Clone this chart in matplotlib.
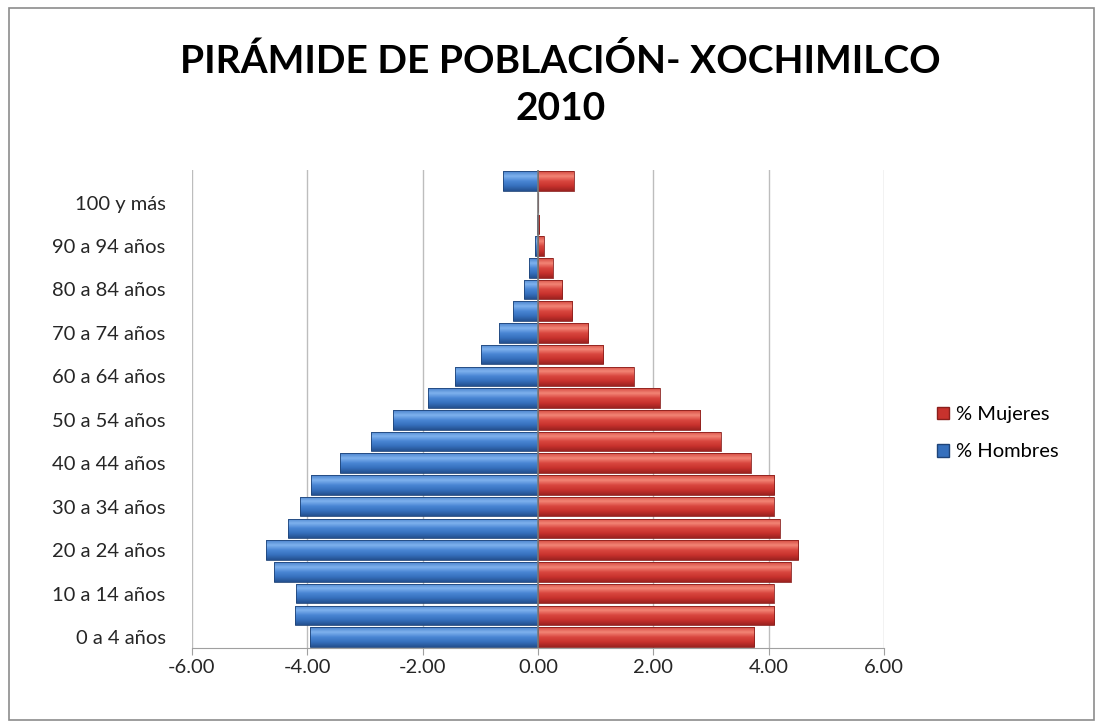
import numpy as np
import matplotlib.pyplot as plt
from matplotlib.colors import LinearSegmentedColormap
from matplotlib.patches import Patch, Rectangle

grupos = ['0 a 4 años', '5 a 9 años', '10 a 14 años', '15 a 19 años', '20 a 24 años',
          '25 a 29 años', '30 a 34 años', '35 a 39 años', '40 a 44 años', '45 a 49 años',
          '50 a 54 años', '55 a 59 años', '60 a 64 años', '65 a 69 años', '70 a 74 años',
          '75 a 79 años', '80 a 84 años', '85 a 89 años', '90 a 94 años', '95 a 99 años',
          '100 y más', 'No especificado']
hombres = [-3.96, -4.22, -4.20, -4.57, -4.71, -4.33, -4.12, -3.93, -3.44, -2.89,
           -2.52, -1.90, -1.44, -0.99, -0.68, -0.44, -0.24, -0.15, -0.05, -0.01,
           -0.003, -0.61]
mujeres = [3.75, 4.10, 4.09, 4.38, 4.51, 4.19, 4.09, 4.10, 3.69, 3.17,
           2.81, 2.11, 1.66, 1.13, 0.87, 0.59, 0.42, 0.26, 0.10, 0.02,
           0.005, 0.62]
xticks = [-6, -4, -2, 0, 2, 4, 6]

azul = LinearSegmentedColormap.from_list('azul', ['#24508f', '#3670bd', '#4a86d4', '#7fb2ee', '#4a82cc'])
rojo = LinearSegmentedColormap.from_list('rojo', ['#9c2220', '#c8322d', '#d9473f', '#f38576', '#d44a40'])

fig = plt.figure(figsize=(11.03, 7.28), dpi=100)
fig.patches.append(Rectangle((0.008, 0.011), 0.984, 0.978, transform=fig.transFigure,
                             fill=False, edgecolor='#8c8c8c', linewidth=1.2))
ax = fig.add_axes([0.174, 0.110, 0.6275, 0.6565])

y = np.arange(len(grupos))
grad = np.linspace(0, 1, 64).reshape(-1, 1)


def draw_bars(vals, cmap, edge):
    bars = ax.barh(y, vals, height=0.9, color='none', edgecolor=edge, linewidth=0.6, zorder=3)
    for b in bars:
        x0, y0 = b.get_x(), b.get_y()
        x1, y1 = x0 + b.get_width(), y0 + b.get_height()
        if abs(x1 - x0) < 1e-9:
            continue
        im = ax.imshow(grad, cmap=cmap, origin='lower', aspect='auto',
                       extent=[min(x0, x1), max(x0, x1), y0, y1], zorder=2)
        im.set_clip_path(b)
    return bars


draw_bars(hombres, azul, '#1f4478')
draw_bars(mujeres, rojo, '#8a1f1c')

ax.axvline(0, color='#7a7a7a', linewidth=1.2, zorder=4)
ax.set_xlim(-6, 6)
ax.set_ylim(-0.5, len(grupos) - 0.5)

ax.set_xticks(xticks)
ax.set_xticklabels(['%.2f' % t for t in xticks], fontsize=14.5, family='Lato', color='#262626')
ax.set_yticks(y[:21:2])
ax.set_yticklabels(grupos[:21:2], fontsize=14.5, family='Lato', color='#262626')
ax.tick_params(axis='y', length=0, pad=19)
ax.tick_params(axis='x', length=5, color='#a0a0a0', pad=3)
ax.grid(axis='x', color='#bdbdbd', linewidth=1.0, zorder=0)
ax.set_axisbelow(True)
for s in ['top', 'right', 'left']:
    ax.spines[s].set_visible(False)
ax.spines['bottom'].set_color('#a0a0a0')

fig.text(0.508, 0.884, 'PIRÁMIDE DE POBLACIÓN- XOCHIMILCO\n2010', ha='center', va='center',
         fontsize=28, fontweight='bold', family='Lato', linespacing=1.42)

handles = [Patch(facecolor='#c8322d', edgecolor='#8a1f1c', label='% Mujeres'),
           Patch(facecolor='#3670bd', edgecolor='#1f4478', label='% Hombres')]
fig.legend(handles=handles, loc='center left', bbox_to_anchor=(0.833, 0.405), frameon=False,
           prop={'family': 'Lato', 'size': 14.5}, handlelength=0.6, handleheight=0.6,
           handletextpad=0.35, labelspacing=1.0)

fig.savefig('out.png', dpi=100)
